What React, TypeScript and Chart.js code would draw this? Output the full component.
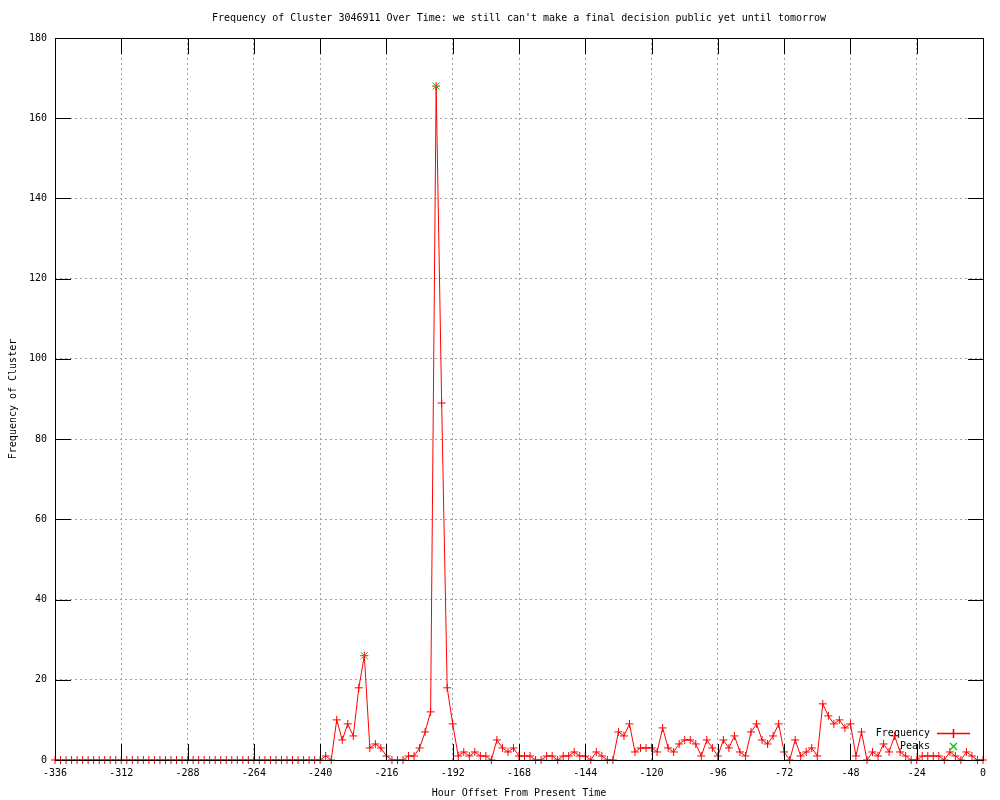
import React, { useEffect, useRef } from "react";
import { Chart, registerables } from "chart.js";

Chart.register(...registerables);

const hours = [
  -336, -334, -332, -330, -328, -326, -324, -322, -320, -318, -316, -314,
  -312, -310, -308, -306, -304, -302, -300, -298, -296, -294, -292, -290,
  -288, -286, -284, -282, -280, -278, -276, -274, -272, -270, -268, -266,
  -264, -262, -260, -258, -256, -254, -252, -250, -248, -246, -244, -242,
  -240, -238, -236, -234, -232, -230, -228, -226, -224, -222, -220, -218,
  -216, -214, -212, -210, -208, -206, -204, -202, -200, -198, -196, -194,
  -192, -190, -188, -186, -184, -182, -180, -178, -176, -174, -172, -170,
  -168, -166, -164, -162, -160, -158, -156, -154, -152, -150, -148, -146,
  -144, -142, -140, -138, -136, -134, -132, -130, -128, -126, -124, -122,
  -120, -118, -116, -114, -112, -110, -108, -106, -104, -102, -100, -98,
  -96, -94, -92, -90, -88, -86, -84, -82, -80, -78, -76, -74,
  -72, -70, -68, -66, -64, -62, -60, -58, -56, -54, -52, -50,
  -48, -46, -44, -42, -40, -38, -36, -34, -32, -30, -28, -26,
  -24, -22, -20, -18, -16, -14, -12, -10, -8, -6, -4, -2,
  0,
];

const frequency = [
  0, 0, 0, 0, 0, 0, 0, 0, 0, 0, 0, 0,
  0, 0, 0, 0, 0, 0, 0, 0, 0, 0, 0, 0,
  0, 0, 0, 0, 0, 0, 0, 0, 0, 0, 0, 0,
  0, 0, 0, 0, 0, 0, 0, 0, 0, 0, 0, 0,
  0, 1, 0, 10, 5, 9, 6, 18, 26, 3, 4, 3,
  1, 0, 0, 0, 1, 1, 3, 7, 12, 168, 89, 18,
  9, 1, 2, 1, 2, 1, 1, 0, 5, 3, 2, 3,
  1, 1, 1, 0, 0, 1, 1, 0, 1, 1, 2, 1,
  1, 0, 2, 1, 0, 0, 7, 6, 9, 2, 3, 3,
  3, 2, 8, 3, 2, 4, 5, 5, 4, 1, 5, 3,
  1, 5, 3, 6, 2, 1, 7, 9, 5, 4, 6, 9,
  2, 0, 5, 1, 2, 3, 1, 14, 11, 9, 10, 8,
  9, 1, 7, 0, 2, 1, 4, 2, 6, 2, 1, 0,
  0, 1, 1, 1, 1, 0, 2, 1, 0, 2, 1, 0,
  0,
];

const peakHours = [-224, -198];
const peakValues = [26, 168];

const xTickValues = [-336, -312, -288, -264, -240, -216, -192, -168, -144, -120, -96, -72, -48, -24, 0];
const yTickValues = [0, 20, 40, 60, 80, 100, 120, 140, 160, 180];

const titleText =
  "Frequency of Cluster 3046911 Over Time: we still can't make a final decision public yet until tomorrow";
const xTitle = "Hour Offset From Present Time";
const yTitle = "Frequency of Cluster";
const seriesNames = ["Frequency", "Peaks"];

const FONT = '10px "DejaVu Sans Mono", "Liberation Mono", monospace';
const RED = "rgb(255, 0, 0)";
const GREEN = "rgb(0, 200, 0)";
const TIC = 16;

const gnuplotFrame = {
  id: "gnuplotFrame",
  afterDatasetsDraw(chart: any) {
    const { ctx, chartArea: a, scales } = chart;
    const xs = scales.x;
    const ys = scales.y;
    const L = Math.round(a.left);
    const R = Math.round(a.right);
    const T = Math.round(a.top);
    const B = Math.round(a.bottom);
    ctx.save();
    ctx.setLineDash([]);
    ctx.fillStyle = "#000000";
    ctx.fillRect(L, T, R - L + 1, 1);
    ctx.fillRect(L, B, R - L + 1, 1);
    ctx.fillRect(L, T, 1, B - T + 1);
    ctx.fillRect(R, T, 1, B - T + 1);
    xTickValues.forEach((v) => {
      const px = Math.round(xs.getPixelForValue(v));
      ctx.fillRect(px, B - TIC, 1, TIC);
      ctx.fillRect(px, T, 1, TIC);
    });
    yTickValues.forEach((v) => {
      const py = Math.round(ys.getPixelForValue(v));
      ctx.fillRect(L, py, TIC, 1);
      ctx.fillRect(R - TIC + 1, py, TIC, 1);
    });

    ctx.font = FONT;
    ctx.textBaseline = "middle";
    ctx.textAlign = "center";
    xTickValues.forEach((v) => {
      ctx.fillText(String(v), xs.getPixelForValue(v), a.bottom + 13);
    });
    ctx.textAlign = "right";
    yTickValues.forEach((v) => {
      ctx.fillText(String(v), a.left - 8, ys.getPixelForValue(v));
    });
    ctx.textAlign = "center";
    ctx.fillText(titleText, (a.left + a.right) / 2, 18);
    ctx.fillText(xTitle, (a.left + a.right) / 2, a.bottom + 33);
    ctx.save();
    ctx.translate(13, (a.top + a.bottom) / 2);
    ctx.rotate(-Math.PI / 2);
    ctx.fillText(yTitle, 0, 0);
    ctx.restore();
    ctx.restore();
  },
  afterDraw(chart: any) {
    const { ctx } = chart;
    const lx = 930;
    const sx0 = 937;
    const sx1 = 970;
    const sc = 953.5;
    const r1 = 733.5;
    const r2 = 746.5;
    ctx.save();
    ctx.setLineDash([]);
    ctx.font = FONT;
    ctx.textBaseline = "middle";
    ctx.textAlign = "right";
    ctx.fillStyle = "#000000";
    ctx.fillText(seriesNames[0], lx, r1);
    ctx.fillText(seriesNames[1], lx, r2);
    ctx.lineWidth = 1.6;
    ctx.strokeStyle = RED;
    ctx.beginPath();
    ctx.moveTo(sx0, r1);
    ctx.lineTo(sx1, r1);
    ctx.moveTo(sc, r1 - 4.5);
    ctx.lineTo(sc, r1 + 4.5);
    ctx.stroke();
    ctx.strokeStyle = GREEN;
    ctx.lineWidth = 1.3;
    ctx.beginPath();
    ctx.moveTo(sc - 3.5, r2 - 3.5);
    ctx.lineTo(sc + 3.5, r2 + 3.5);
    ctx.moveTo(sc + 3.5, r2 - 3.5);
    ctx.lineTo(sc - 3.5, r2 + 3.5);
    ctx.stroke();
    ctx.restore();
  },
};

export default function App() {
  const ref = useRef<HTMLCanvasElement | null>(null);

  useEffect(() => {
    document.body.style.margin = "0";
    document.body.style.background = "#ffffff";
    if (!ref.current) return;
    const chart = new Chart(ref.current, {
      type: "line",
      data: {
        datasets: [
          {
            label: seriesNames[1],
            data: peakHours.map((h, i) => ({ x: h, y: peakValues[i] })),
            showLine: false,
            pointStyle: "crossRot",
            pointRadius: 5,
            pointBorderWidth: 1,
            pointBorderColor: GREEN,
            borderColor: GREEN,
            backgroundColor: GREEN,
            clip: 10,
          } as any,
          {
            label: seriesNames[0],
            data: hours.map((h, i) => ({ x: h, y: frequency[i] })),
            borderColor: RED,
            borderWidth: 1,
            backgroundColor: RED,
            pointStyle: "cross",
            pointRadius: 4,
            pointBorderWidth: 1,
            pointBorderColor: RED,
            tension: 0,
            clip: 10,
          } as any,
        ],
      },
      options: {
        animation: false,
        responsive: false,
        devicePixelRatio: 1,
        events: [],
        layout: { padding: { left: 55, right: 17, top: 38, bottom: 40 } },
        plugins: {
          legend: { display: false },
          tooltip: { enabled: false },
          title: { display: false },
        },
        scales: {
          x: {
            type: "linear",
            min: -336,
            max: 0,
            afterBuildTicks: (axis: any) => {
              axis.ticks = xTickValues.map((v) => ({ value: v }));
            },
            ticks: { display: false },
            grid: { color: "#a0a0a0", lineWidth: 1, drawTicks: false },
            border: { display: false, dash: [2, 3] },
          },
          y: {
            type: "linear",
            min: 0,
            max: 180,
            afterBuildTicks: (axis: any) => {
              axis.ticks = yTickValues.map((v) => ({ value: v }));
            },
            ticks: { display: false },
            grid: { color: "#a0a0a0", lineWidth: 1, drawTicks: false },
            border: { display: false, dash: [2, 3] },
          },
        },
      } as any,
      plugins: [gnuplotFrame],
    });
    return () => chart.destroy();
  }, []);

  return (
    <canvas
      ref={ref}
      width={1000}
      height={800}
      style={{ display: "block", width: 1000, height: 800 }}
    />
  );
}
